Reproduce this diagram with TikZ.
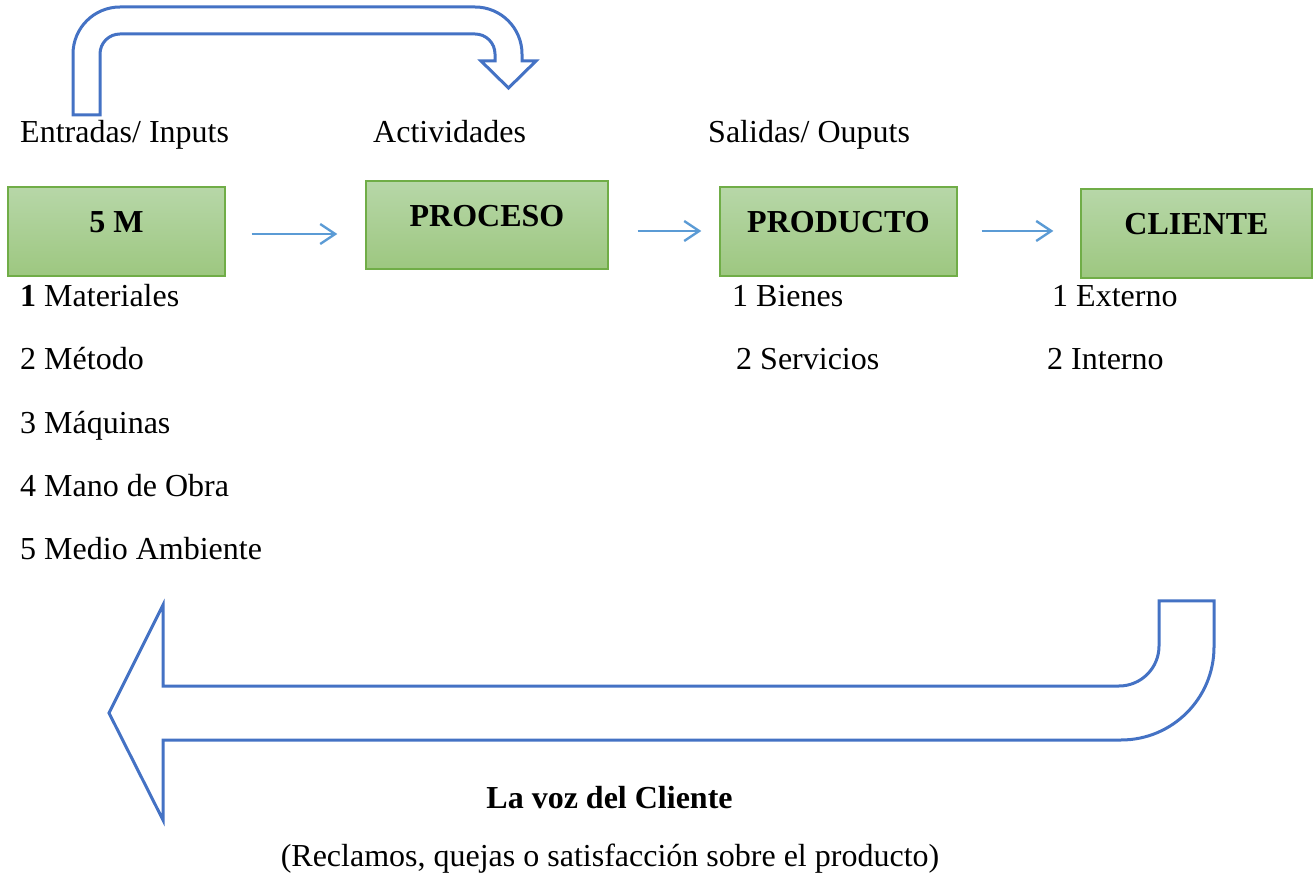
\documentclass[tikz,border=0pt]{standalone}
\usepackage{fontspec}
\setmainfont{Liberation Serif}
\usetikzlibrary{arrows.meta}
\definecolor{bigblue}{HTML}{4472C4}
\definecolor{connblue}{HTML}{5B9BD5}
\definecolor{boxtop}{RGB}{183,215,168}
\definecolor{boxbot}{RGB}{157,199,128}
\definecolor{boxedge}{HTML}{70AD47}
\tikzset{
  txt/.style={font=\fontsize{32}{38}\selectfont, inner sep=0pt, anchor=base west},
  ctxt/.style={font=\fontsize{32}{38}\selectfont, inner sep=0pt, anchor=base},
  greenbox/.style={draw=boxedge, line width=1.3pt, top color=boxtop, bottom color=boxbot,
    font=\fontsize{32}{38}\selectfont\bfseries, inner sep=0pt,
    text height=22pt, text depth=19pt},
  conn/.style={draw=connblue, line width=2.4pt, -{Straight Barb[length=15pt,width=20pt]}},
  bigarrow/.style={draw=bigblue, line width=3pt, line join=miter},
}
\begin{document}
\begin{tikzpicture}[x=1pt,y=1pt]
\useasboundingbox (0,0) rectangle (1316,873);

% top U-turn block arrow
\draw[bigarrow] (73,758) -- (73,819) arc[start angle=180,end angle=90,radius=47]
  -- (475,866) arc[start angle=90,end angle=0,radius=47]
  -- (522,812) -- (536,812) -- (508.5,785) -- (481,812) -- (495,812) -- (495,819)
  arc[start angle=0,end angle=90,radius=20]
  -- (120,839) arc[start angle=90,end angle=180,radius=20]
  -- (100,758) -- cycle;

% bottom return block arrow
\draw[bigarrow] (1214,272) -- (1214,226) arc[start angle=0,end angle=-90,radius=93]
  -- (163,133) -- (163,53) -- (109,160) -- (163,268) -- (163,187) -- (1119,187)
  arc[start angle=-90,end angle=0,radius=40]
  -- (1159,272) -- cycle;

% headers
\node[txt] (hin) at (20,730) {Entradas/ Inputs};
\node[txt] (hact) at (373,730) {Actividades};
\node[txt] (hout) at (708,730) {Salidas/ Ouputs};

% boxes
\node[greenbox, minimum width=217pt, minimum height=89pt] (m5) at (116.5,641.5) {5 M};
\node[greenbox, minimum width=242pt, minimum height=88pt] (proc) at (487,648) {PROCESO};
\node[greenbox, minimum width=237pt, minimum height=89pt] (prod) at (838.5,641.5) {PRODUCTO};
\node[greenbox, minimum width=231pt, minimum height=89pt] (cli) at (1196.5,639.5) {CLIENTE};

% connectors
\draw[conn, shorten <=26pt, shorten >=28pt] ([yshift=-2.5pt]m5.east) -- ([yshift=-2.5pt]m5.east -| proc.west);
\draw[conn, shorten <=29pt, shorten >=18pt] ([yshift=-6pt]proc.east) -- ([yshift=-6pt]proc.east -| prod.west);
\draw[conn, shorten <=24pt, shorten >=27pt] ([yshift=0.5pt]prod.east) -- ([yshift=0.5pt]prod.east -| cli.west);

% lists
\node[txt] (l1) at (20,566) {\textbf{1} Materiales};
\node[txt] (l2) at (20,503) {2 Método};
\node[txt] (l3) at (20,439) {3 Máquinas};
\node[txt] (l4) at (20,376) {4 Mano de Obra};
\node[txt] (l5) at (20,313) {5 Medio Ambiente};

\node[txt] (p1) at (732,566) {1 Bienes};
\node[txt] (p2) at (736,503) {2 Servicios};
\node[txt] (c1) at (1052,566) {1 Externo};
\node[txt] (c2) at (1047,503) {2 Interno};

% bottom captions
\node[ctxt, font=\fontsize{32}{38}\selectfont\bfseries] (voz) at (609.5,65) {La voz del Cliente};
\node[ctxt] (recl) at (610,7) {(Reclamos, quejas o satisfacción sobre el producto)};
\end{tikzpicture}
\end{document}
